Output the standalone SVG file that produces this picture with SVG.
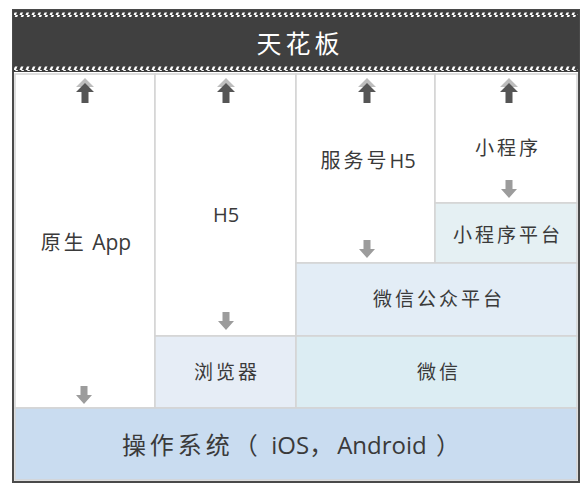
<svg xmlns="http://www.w3.org/2000/svg" width="586" height="498" viewBox="0 0 586 498">
<defs>
<style>
.cell{stroke:#d4d4d4;stroke-width:1.5}
.t{font-family:"Noto Sans CJK SC","Liberation Sans",sans-serif;fill:#3a3a3a;text-anchor:middle;letter-spacing:3px}
.lat{font-family:"Open Sans","Liberation Sans",sans-serif;letter-spacing:0}
.down{fill:#9c9c9c}
</style>
<pattern id="hatch" width="6" height="5" patternUnits="userSpaceOnUse">
<rect width="6" height="5" fill="#3c3c3c"/>
<polygon points="1.5,5 4,5 6,0 3.5,0" fill="#ffffff"/>
</pattern>
<g id="up">
<polygon points="0,-3 9,6 3.5,6 3.5,8 -3.5,8 -3.5,6 -9,6" fill="#bdbdbd"/>
<polygon points="0,2 9,11 3.5,11 3.5,22 -3.5,22 -3.5,11 -9,11" fill="#555555"/>
</g>
<polygon id="dn" points="-3.5,0 3.5,0 3.5,9 8,9 0,18 -8,9 -3.5,9" class="down"/>
</defs>
<rect width="586" height="498" fill="#ffffff"/>
<g id="frame">
<rect x="13" y="10" width="566" height="472" fill="#ffffff" stroke="#4a4a4a" stroke-width="2"/>
</g>
<g id="ceiling">
<rect x="13" y="10" width="566" height="62" fill="#404040"/>
<rect x="14" y="12.5" width="564" height="4.5" fill="url(#hatch)"/>
<rect x="14" y="66.5" width="564" height="4.5" fill="url(#hatch)"/>
<text x="300" y="53" class="t" style="fill:#ffffff;font-size:25px;letter-spacing:4px">天花板</text>
</g>
<g id="native">
<rect x="15" y="74" width="140" height="334" class="cell" fill="#ffffff"/>
<text x="86" y="250" class="t" style="font-size:20px">原生<tspan class="lat" style="font-size:21px"> App</tspan></text>
</g>
<g id="h5">
<rect x="155" y="74" width="141" height="262" class="cell" fill="#ffffff"/>
<text x="226" y="222" class="t lat" style="font-size:20px">H5</text>
</g>
<g id="service-h5">
<rect x="296" y="74" width="139" height="189" class="cell" fill="#ffffff"/>
<text x="368" y="168" class="t" style="font-size:20px">服务号<tspan class="lat">H5</tspan></text>
</g>
<g id="miniprogram">
<rect x="435" y="74" width="142" height="129" class="cell" fill="#ffffff"/>
<text x="508" y="155" class="t" style="font-size:19px">小程序</text>
</g>
<g id="miniprogram-platform">
<rect x="435" y="203" width="142" height="60" class="cell" fill="#e5f0f3"/>
<text x="508" y="242" class="t" style="font-size:19px">小程序平台</text>
</g>
<g id="mp-platform">
<rect x="296" y="263" width="281" height="73" class="cell" fill="#e3edf6"/>
<text x="439" y="306" class="t" style="font-size:19px">微信公众平台</text>
</g>
<g id="browser">
<rect x="155" y="336" width="141" height="72" class="cell" fill="#e6edf6"/>
<text x="227" y="379" class="t" style="font-size:19px">浏览器</text>
</g>
<g id="wechat">
<rect x="296" y="336" width="281" height="72" class="cell" fill="#dcedf3"/>
<text x="439" y="379" class="t" style="font-size:19px">微信</text>
</g>
<g id="os">
<rect x="15" y="408" width="562" height="72" class="cell" fill="#c9dcf0"/>
<text x="293" y="454" class="t" style="font-size:24px;letter-spacing:4px">操作系统（ <tspan class="lat">iOS</tspan>，<tspan class="lat">Android</tspan> ）</text>
</g>
<g id="connectors">
<use href="#up" x="85" y="81"/>
<use href="#up" x="226" y="81"/>
<use href="#up" x="367" y="81"/>
<use href="#up" x="509" y="81"/>
<use href="#dn" x="84" y="386"/>
<use href="#dn" x="226" y="312"/>
<use href="#dn" x="367" y="240"/>
<use href="#dn" x="509" y="180"/>
</g>
</svg>
